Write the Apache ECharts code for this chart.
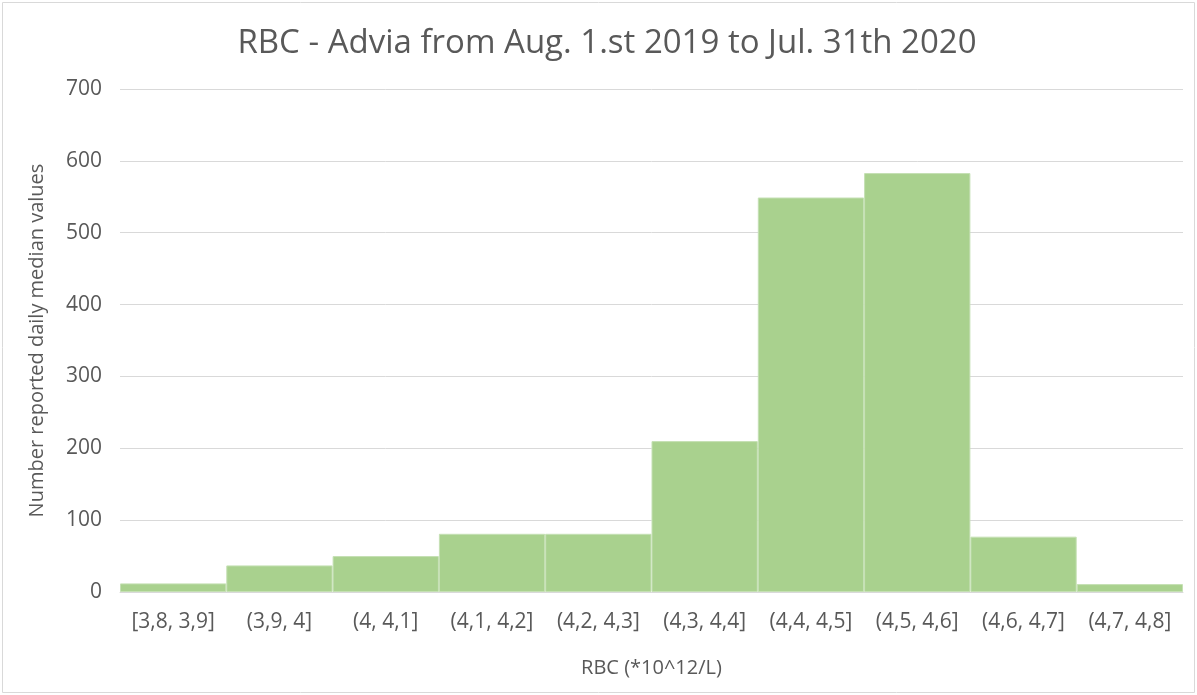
<!DOCTYPE html>
<html><head><meta charset="utf-8">
<script src="https://cdn.jsdelivr.net/npm/echarts@6/dist/echarts.min.js"></script>
<style>html,body{margin:0;padding:0;background:#fff}#c{width:1197px;height:695px}</style>
</head><body><div id="c"></div>
<script>
const categories = ['[3,8, 3,9]','(3,9, 4]','(4, 4,1]','(4,1, 4,2]','(4,2, 4,3]','(4,3, 4,4]','(4,4, 4,5]','(4,5, 4,6]','(4,6, 4,7]','(4,7, 4,8]'];
const counts = [12, 37, 50, 81, 81, 210, 549, 583, 77, 11];
const yTicks = [0, 100, 200, 300, 400, 500, 600, 700];
const FONT = '"Open Sans", "Noto Sans", sans-serif';
const chart = echarts.init(document.getElementById('c'));
chart.setOption({
  animation: false,
  graphic: [{type:'rect', shape:{x:2.5,y:2.5,width:1192,height:690}, style:{fill:'none', stroke:'#d9d9d9', lineWidth:1}}],
  title: {text: 'RBC - Advia from Aug. 1.st 2019 to Jul. 31th 2020', left: 602, textAlign: 'center', top: 22,
    textStyle: {fontFamily: FONT, fontSize: 33, fontWeight: 'normal', color: '#595959'}},
  grid: {left: 120, right: 14, top: 89, bottom: 103},
  xAxis: {type: 'category', data: categories,
    name: 'RBC (*10^12/L)', nameLocation: 'middle', nameGap: 66,
    nameTextStyle: {fontFamily: FONT, fontSize: 20, color: '#595959'},
    axisLine: {lineStyle: {color: '#d9d9d9', width: 1}}, axisTick: {show: false},
    axisLabel: {fontFamily: FONT, fontSize: 21, color: '#595959', margin: 20, interval: 0}},
  yAxis: {type: 'value', min: 0, max: 700, interval: 100,
    name: 'Number reported daily median values', nameLocation: 'middle', nameGap: 73,
    nameTextStyle: {fontFamily: FONT, fontSize: 20, color: '#595959'},
    axisLine: {show: false}, axisTick: {show: false},
    axisLabel: {fontFamily: FONT, fontSize: 21, color: '#595959', margin: 18,
      formatter: v => yTicks.includes(v) ? String(v) : ''},
    splitLine: {lineStyle: {color: '#d9d9d9', width: 1}}},
  series: [{type: 'bar', data: counts, barCategoryGap: '0%',
    itemStyle: {color: '#a9d18e', borderColor: '#c5e0b4', borderWidth: 1}}]
});
</script></body></html>
